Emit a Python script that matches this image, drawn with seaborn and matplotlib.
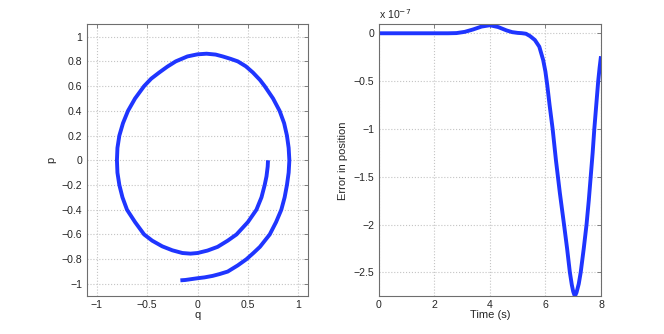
import matplotlib
matplotlib.use("Agg")
import matplotlib.pyplot as plt
from matplotlib.ticker import FuncFormatter
import seaborn as sns
import pandas as pd

# ---- data ----
# phase portrait (clockwise, from start to end)
q_vals = [0.70, 0.697, 0.685, 0.667, 0.635, 0.585, 0.50, 0.387, 0.30, 0.20, 0.10,
          0.0, -0.07, -0.15, -0.25, -0.35, -0.45, -0.53, -0.62, -0.70, -0.745,
          -0.776, -0.795, -0.80, -0.795, -0.776, -0.74, -0.69, -0.62, -0.53, -0.46,
          -0.38, -0.30, -0.216, -0.10, 0.0, 0.09, 0.18, 0.25, 0.33, 0.40, 0.48,
          0.55, 0.62, 0.667, 0.75, 0.815, 0.86, 0.888, 0.905, 0.912, 0.905, 0.888,
          0.865, 0.832, 0.78, 0.717, 0.62, 0.555, 0.486, 0.40, 0.30, 0.22, 0.15,
          0.07, 0.0, -0.06, -0.12, -0.17]
p_vals = [0.0, -0.05, -0.13, -0.2, -0.3, -0.4, -0.5, -0.6, -0.65, -0.70, -0.73,
          -0.75, -0.755, -0.75, -0.728, -0.696, -0.65, -0.6, -0.5, -0.4, -0.3,
          -0.2, -0.1, 0.0, 0.1, 0.2, 0.3, 0.4, 0.5, 0.6, 0.66,
          0.71, 0.757, 0.8, 0.84, 0.857, 0.862, 0.855, 0.84, 0.82, 0.8, 0.76,
          0.71, 0.65, 0.6, 0.5, 0.4, 0.3, 0.2, 0.1, 0.0, -0.1, -0.2,
          -0.3, -0.4, -0.5, -0.6, -0.7, -0.75, -0.8, -0.85, -0.9, -0.92, -0.935,
          -0.947, -0.954, -0.961, -0.968, -0.971]

# error in position (units of 1e-7) vs time
time_s = [0, 1, 2, 2.5, 2.8, 3.1, 3.4, 3.7, 4.0, 4.3, 4.6, 4.8, 5.0, 5.15, 5.3,
          5.45, 5.62, 5.78, 5.92, 6.0, 6.07, 6.15, 6.26, 6.38, 6.52, 6.67, 6.78,
          6.88, 6.95, 7.0, 7.06, 7.12, 7.2, 7.27, 7.38, 7.48, 7.56, 7.63, 7.7,
          7.76, 7.83, 7.9, 7.95, 8.0]
err_e7 = [0, 0, 0, 0, 0.002, 0.015, 0.04, 0.07, 0.084, 0.065, 0.03, 0.012, 0.004,
          0.001, -0.005, -0.03, -0.07, -0.14, -0.28, -0.4, -0.55, -0.75, -1.0,
          -1.33, -1.67, -2.0, -2.25, -2.5, -2.63, -2.7, -2.75, -2.71, -2.62, -2.5,
          -2.25, -2.0, -1.75, -1.5, -1.25, -1.0, -0.75, -0.5, -0.36, -0.24]

phase = pd.DataFrame({"q": q_vals, "p": p_vals})
err = pd.DataFrame({"t": time_s, "e": err_e7})

sns.set_theme(style="white")
plt.rcParams["font.family"] = ["Liberation Sans", "DejaVu Sans"]
plt.rcParams["axes.unicode_minus"] = True

line_color = "#1f35ff"
frame_color = "#6e6e6e"
grid_color = "#c4c4c4"
fs = 7.6

fig = plt.figure(figsize=(6.64, 3.34), dpi=100)
ax1 = fig.add_axes([0.1306, 0.1129, 0.3337, 0.8144])
ax2 = fig.add_axes([0.5703, 0.1129, 0.3348, 0.8144])

sns.lineplot(data=phase, x="q", y="p", sort=False, estimator=None, ax=ax1,
             color=line_color, linewidth=2.8)
sns.lineplot(data=err, x="t", y="e", sort=False, estimator=None, ax=ax2,
             color=line_color, linewidth=2.8)
for ax in (ax1, ax2):
    for ln in ax.get_lines():
        ln.set_solid_joinstyle("round")
        ln.set_solid_capstyle("butt")

fmt = FuncFormatter(lambda v, pos: ("%g" % round(v, 6)).replace("-", "\u2212"))

ax1.set_xlim(-1.1, 1.1)
ax1.set_ylim(-1.1, 1.1)
ax1.set_xticks([-1, -0.5, 0, 0.5, 1])
ax1.set_yticks([-1, -0.8, -0.6, -0.4, -0.2, 0, 0.2, 0.4, 0.6, 0.8, 1])
ax1.set_xlabel("q", fontsize=fs + 0.4, labelpad=0)
ax1.set_ylabel("p", fontsize=fs + 0.4, labelpad=4)

ax2.set_xlim(0, 8)
ax2.set_ylim(-2.75, 0.094)
ax2.set_xticks([0, 2, 4, 6, 8])
ax2.set_yticks([-2.5, -2, -1.5, -1, -0.5, 0])
ax2.set_xlabel("Time (s)", fontsize=fs + 0.4, labelpad=0)
ax2.set_ylabel("Error in position", fontsize=fs + 0.4, labelpad=4)
ax2.text(0.0, 1.012, r"x 10$^{-7}$", transform=ax2.transAxes, fontsize=fs,
         ha="left", va="bottom", color="#262626")

for ax in (ax1, ax2):
    ax.xaxis.set_major_formatter(fmt)
    ax.yaxis.set_major_formatter(fmt)
    ax.grid(True, linestyle=":", color=grid_color, linewidth=0.8)
    ax.set_axisbelow(True)
    ax.tick_params(direction="in", top=True, right=True, length=3, width=0.6,
                   colors=frame_color, labelcolor="#262626", labelsize=fs, pad=3)
    for s in ax.spines.values():
        s.set_color(frame_color)
        s.set_linewidth(0.8)
    ax.xaxis.label.set_color("#262626")
    ax.yaxis.label.set_color("#262626")

fig.savefig("out.png", dpi=100)
